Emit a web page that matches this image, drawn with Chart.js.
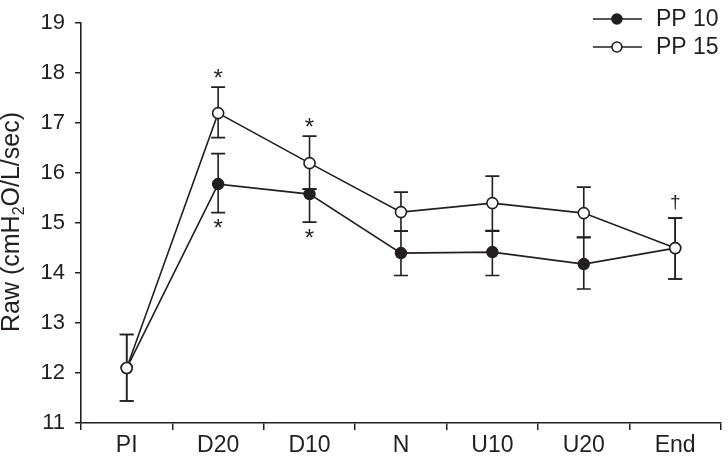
<!DOCTYPE html>
<html>
<head>
<meta charset="utf-8">
<script src="https://cdn.jsdelivr.net/npm/chart.js@4"></script>
<style>
  html, body { margin: 0; padding: 0; background: #fff; }
  #wrap { width: 728px; height: 458px; }
</style>
</head>
<body>
<div id="wrap"><canvas id="grafico" width="728" height="458"></canvas></div>
<script>
// Datos
const categorias = ["PI", "D20", "D10", "N", "U10", "U20", "End"];
const pp10 = [12.1, 15.78, 15.58, 14.4, 14.42, 14.18, 14.5];
const pp15 = [12.1, 17.2, 16.2, 15.22, 15.4, 15.2, 14.5];
// error hacia arriba / abajo
const pp10Arriba = [0.67, 0.61, 0.1, 0.44, 0.42, 0.53, 0.6];
const pp10Abajo = [0.66, 0.57, 0.56, 0.45, 0.47, 0.5, 0.62];
const pp15Arriba = [0.67, 0.52, 0.54, 0.4, 0.54, 0.52, 0.6];
const pp15Abajo = [0.66, 0.49, 0.52, 0.38, 0.55, 0.48, 0.62];
// marcas de significancia
const marcasArriba = ["", "*", "*", "", "", "", "\u2020"];
const marcasAbajo = ["", "*", "*", "", "", "", ""];
const yTicks = [11, 12, 13, 14, 15, 16, 17, 18, 19];

const NEGRO = "#231f20";
const FUENTE = "'Liberation Sans', Arial, sans-serif";

// barras de error, se dibujan antes de los puntos
const barrasError = {
    id: "barrasError",
    beforeDatasetsDraw(chart) {
        const ctx = chart.ctx;
        const x = chart.scales.x, y = chart.scales.y;
        const series = [[pp10, pp10Arriba, pp10Abajo], [pp15, pp15Arriba, pp15Abajo]];
        ctx.save();
        ctx.strokeStyle = NEGRO;
        ctx.lineWidth = 1.6;
        series.forEach(([vals, up, down]) => {
            vals.forEach((v, i) => {
                const px = x.getPixelForValue(i);
                const top = y.getPixelForValue(v + up[i]);
                const bot = y.getPixelForValue(v - down[i]);
                ctx.beginPath();
                ctx.moveTo(px, top); ctx.lineTo(px, bot);
                ctx.moveTo(px - 7, top); ctx.lineTo(px + 7, top);
                ctx.moveTo(px - 7, bot); ctx.lineTo(px + 7, bot);
                ctx.stroke();
            });
        });
        ctx.restore();
    },
    afterDraw(chart) {
        const ctx = chart.ctx;
        const x = chart.scales.x, y = chart.scales.y;
        ctx.save();
        ctx.fillStyle = NEGRO;
        ctx.textAlign = "center";
        ctx.textBaseline = "middle";
        // asteriscos y daga
        categorias.forEach((c, i) => {
            const px = x.getPixelForValue(i);
            if (marcasArriba[i]) {
                const tope = Math.min(y.getPixelForValue(pp15[i] + pp15Arriba[i]), y.getPixelForValue(pp10[i] + pp10Arriba[i]));
                if (marcasArriba[i] === "*") {
                    ctx.font = "24px " + FUENTE;
                    ctx.fillText("*", px, tope - 8);
                } else {
                    ctx.font = "19px " + FUENTE;
                    ctx.fillText(marcasArriba[i], px, tope - 15);
                }
            }
            if (marcasAbajo[i]) {
                const fondo = Math.max(y.getPixelForValue(pp15[i] - pp15Abajo[i]), y.getPixelForValue(pp10[i] - pp10Abajo[i]));
                ctx.font = "24px " + FUENTE;
                ctx.fillText("*", px, fondo + 17);
            }
        });

        // titulo del eje y con subindice
        ctx.translate(19, 222);
        ctx.rotate(-Math.PI / 2);
        ctx.textAlign = "left";
        ctx.textBaseline = "alphabetic";
        const p1 = "Raw (cmH", p2 = "2", p3 = "O/L/sec)";
        ctx.font = "25px " + FUENTE;
        const w1 = ctx.measureText(p1).width, w3 = ctx.measureText(p3).width;
        ctx.font = "16px " + FUENTE;
        const w2 = ctx.measureText(p2).width;
        let sx = -(w1 + w2 + w3) / 2;
        ctx.font = "25px " + FUENTE;
        ctx.fillText(p1, sx, 0);
        sx += w1;
        ctx.font = "16px " + FUENTE;
        ctx.fillText(p2, sx, 5);
        sx += w2;
        ctx.font = "25px " + FUENTE;
        ctx.fillText(p3, sx, 0);
        ctx.restore();

        // leyenda
        ctx.save();
        const items = [["PP 10", NEGRO], ["PP 15", "#ffffff"]];
        items.forEach(([txt, relleno], k) => {
            const ly = 19 + k * 28;
            const lx = chart.chartArea.right - 128;
            ctx.strokeStyle = NEGRO;
            ctx.lineWidth = 1.6;
            ctx.beginPath();
            ctx.moveTo(lx, ly); ctx.lineTo(lx + 49, ly);
            ctx.stroke();
            ctx.beginPath();
            ctx.arc(lx + 24, ly, 5, 0, Math.PI * 2);
            ctx.fillStyle = relleno;
            ctx.fill();
            ctx.stroke();
            ctx.fillStyle = NEGRO;
            ctx.font = "23px " + FUENTE;
            ctx.textAlign = "left";
            ctx.textBaseline = "middle";
            ctx.fillText(txt, lx + 63, ly + 1);
        });
        ctx.restore();
    }
};

const ctx = document.getElementById("grafico").getContext("2d");
const grafico = new Chart(ctx, {
    type: "line",
    data: {
        labels: categorias,
        datasets: [
            {
                label: "PP 10",
                data: pp10,
                borderColor: NEGRO,
                borderWidth: 1.6,
                backgroundColor: NEGRO,
                pointBackgroundColor: NEGRO,
                pointBorderColor: NEGRO,
                pointRadius: 5.5,
                pointBorderWidth: 1.5,
                tension: 0,
                order: 1
            },
            {
                label: "PP 15",
                data: pp15,
                borderColor: NEGRO,
                borderWidth: 1.6,
                backgroundColor: "#ffffff",
                pointBackgroundColor: "#ffffff",
                pointBorderColor: NEGRO,
                pointRadius: 5.5,
                pointBorderWidth: 1.6,
                tension: 0,
                order: 0
            }
        ]
    },
    options: {
        responsive: false,
        animation: false,
        devicePixelRatio: 1,
        layout: { padding: { top: 10, right: 3, left: 0, bottom: 0 } },
        plugins: {
            legend: { display: false },
            tooltip: { enabled: false }
        },
        scales: {
            x: {
                type: "category",
                offset: true,
                grid: {
                    offset: true,
                    drawOnChartArea: false,
                    color: NEGRO,
                    lineWidth: 1.5,
                    tickLength: 7
                },
                border: { display: true, color: NEGRO, width: 1.6 },
                ticks: {
                    color: NEGRO,
                    font: { family: FUENTE, size: 23 },
                    padding: 2,
                    maxRotation: 0
                },
                afterFit: (s) => { s.height = 35; }
            },
            y: {
                min: 11,
                max: 19,
                afterBuildTicks: (s) => { s.ticks = yTicks.map(v => ({ value: v })); },
                grid: {
                    drawOnChartArea: false,
                    color: NEGRO,
                    lineWidth: 1.5,
                    tickLength: 6
                },
                border: { display: true, color: NEGRO, width: 1.6 },
                ticks: {
                    color: NEGRO,
                    font: { family: FUENTE, size: 22 },
                    padding: 10
                },
                afterFit: (s) => { s.width = 81; }
            }
        }
    },
    plugins: [barrasError]
});
</script>
</body>
</html>
